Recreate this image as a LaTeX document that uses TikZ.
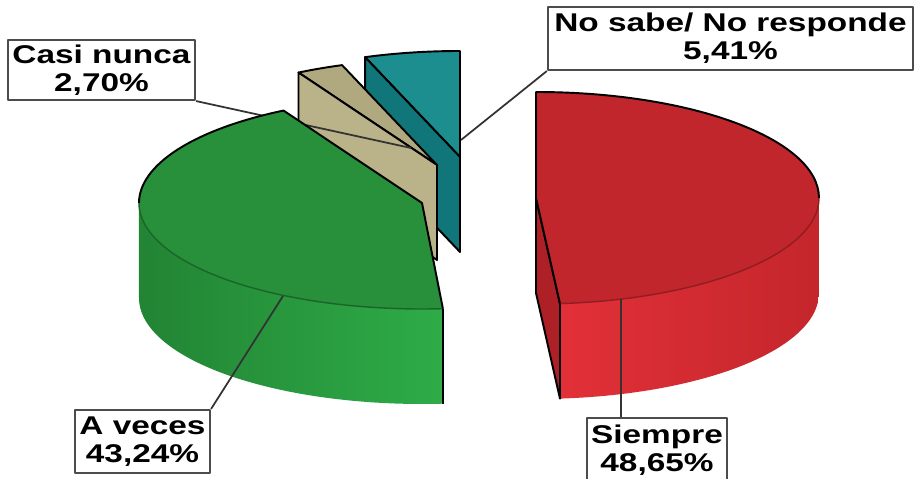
\documentclass[tikz,border=0pt]{standalone}
\usepackage{fontspec}
\newfontfamily\lblfont{Liberation Sans}[FakeStretch=1.3]
\usetikzlibrary{calc}
\definecolor{redtop}{RGB}{192,38,44}
\definecolor{redcut}{RGB}{172,32,38}
\definecolor{redsideA}{RGB}{226,48,56}
\definecolor{redsideB}{RGB}{196,38,44}
\definecolor{greentop}{RGB}{40,143,58}
\definecolor{greensideA}{RGB}{34,132,52}
\definecolor{greensideB}{RGB}{46,172,72}
\definecolor{tantop}{RGB}{176,168,126}
\definecolor{tancut}{RGB}{186,178,136}
\definecolor{tealtop}{RGB}{28,142,144}
\definecolor{tealcut}{RGB}{16,118,122}
\def\rx{283}
\def\ry{106}
\def\h{95}
\def\rimpt(#1)(#2)(#3){\coordinate (#3) at ($(#1)+({\rx*cos(#2)},{\ry*sin(#2)})$);}
\tikzset{
	rimline/.style={line width=0.55pt, draw=black},
	leadline/.style={line width=0.5pt, draw=black!80},
	labelbox/.style={draw=black!70, fill=white, line width=0.6pt, inner sep=0pt, align=center,
		font=\lblfont\bfseries\fontsize{7.3}{7.9}\selectfont}
}

\begin{document}
\begin{tikzpicture}[x=0.01cm, y=-0.01cm, line join=round]
			%%%%% START %%%%%
			\useasboundingbox (0,0) rectangle (914,479);
			\clip (0,0) rectangle (914,479);
			
			% slice centres
			\coordinate (sp) at (536,198);
			\coordinate (av) at (422,203);
			\coordinate (cn) at (437,165);
			\coordinate (ns) at (460,157);
			
			\rimpt(sp)(-90)(sp-b)
			\rimpt(sp)(85.14)(sp-a)
			\rimpt(av)(85.76)(av-a)
			\rimpt(av)(240.7)(av-b)
			\rimpt(cn)(240.7)(cn-a)
			\rimpt(ns)(250.4)(ns-a)
			
			% ends of the leader lines
			\coordinate (sp-l) at (621,299);
			\coordinate (av-l) at (283,296);
			\coordinate (cn-l) at (411,148);
			\coordinate (ns-l) at (461,140);
			
			% labels
			\node[labelbox, minimum width=1.87cm, minimum height=0.60cm] (casi) at (101.5,70) {Casi nunca\\2,70\%};
			\node[labelbox, minimum width=3.65cm, minimum height=0.63cm] (nosabe) at (730.5,38.5) {No sabe/ No responde\\5,41\%};
			\node[labelbox, minimum width=1.35cm, minimum height=0.63cm] (aveces) at (142.5,441.5) {A veces\\43,24\%};
			\node[labelbox, minimum width=1.40cm, minimum height=0.64cm] (siempre) at (657,450) {Siempre\\48,65\%};
			
			% No sabe / No responde
			\draw[rimline, fill=tealtop] (ns) -- (ns-a) arc[start angle=250.4, end angle=270, x radius=\rx, y radius=\ry] -- cycle;
			\draw[rimline, fill=tealcut] (ns-a) -- (ns) -- ++(0,\h) -- ($(ns-a)+(0,\h)$) -- cycle;
			
			% Casi nunca
			\draw[rimline, fill=tantop] (cn) -- (cn-a) arc[start angle=240.7, end angle=250.4, x radius=\rx, y radius=\ry] -- cycle;
			\draw[rimline, fill=tancut] (cn-a) -- (cn) -- ++(0,\h) -- ($(cn-a)+(0,\h)$) -- cycle;
			
			\draw[leadline] (casi.south east) -- (cn-l);
			\draw[leadline] (nosabe.south west) -- (ns-l);
			
			% A veces
			\shade[left color=greensideA, right color=greensideB] (av-a) arc[start angle=85.76, end angle=180, x radius=\rx, y radius=\ry] -- ++(0,\h) arc[start angle=180, end angle=85.76, x radius=\rx, y radius=\ry] -- cycle;
			\fill[greentop] (av) -- (av-a) arc[start angle=85.76, end angle=240.7, x radius=\rx, y radius=\ry] -- cycle;
			\draw[line width=0.4pt, greentop!70!black] (av-a) arc[start angle=85.76, end angle=180, x radius=\rx, y radius=\ry];
			\draw[rimline] (av-a) -- (av) -- (av-b) arc[start angle=240.7, end angle=180, x radius=\rx, y radius=\ry];
			\draw[rimline] (av-a) -- ++(0,\h);
			
			% Siempre
			\draw[rimline, fill=redcut] (sp) -- (sp-a) -- ++(0,\h) -- ($(sp)+(0,\h)$) -- cycle;
			\shade[left color=redsideA, right color=redsideB] (sp-a) arc[start angle=85.14, end angle=0, x radius=\rx, y radius=\ry] -- ++(0,\h) arc[start angle=0, end angle=85.14, x radius=\rx, y radius=\ry] -- cycle;
			\fill[redtop] (sp) -- (sp-b) arc[start angle=-90, end angle=85.14, x radius=\rx, y radius=\ry] -- cycle;
			\draw[line width=0.4pt, redtop!75!black] (sp-a) arc[start angle=85.14, end angle=0, x radius=\rx, y radius=\ry];
			\draw[rimline] (sp-a) -- (sp) -- (sp-b) arc[start angle=-90, end angle=0, x radius=\rx, y radius=\ry];
			\draw[rimline] (sp-a) -- ++(0,\h);
			
			\draw[leadline] (aveces.north east) -- (av-l);
			\draw[leadline] (sp-l) -- (sp-l |- siempre.north);
			
			%%%%% END %%%%%
\end{tikzpicture}
\end{document}
